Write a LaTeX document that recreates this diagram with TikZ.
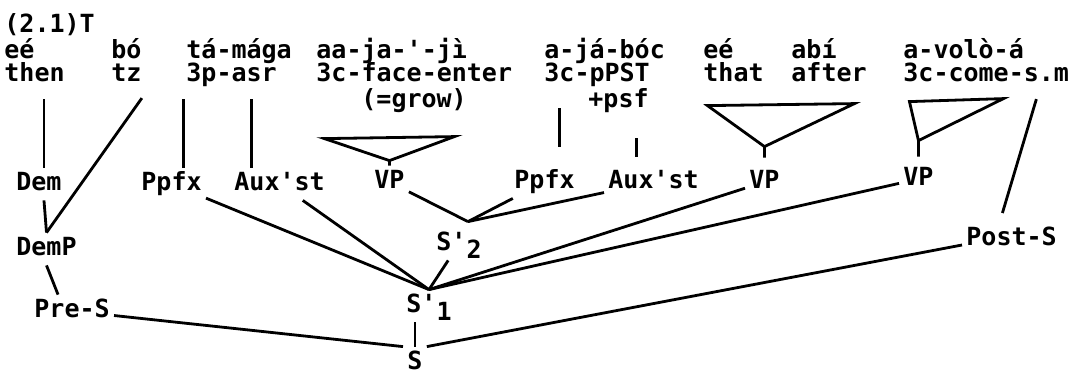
\documentclass[tikz,border=0pt]{standalone}
\usepackage{fontspec}
\setmonofont{DejaVu Sans Mono}
\begin{document}
\begin{tikzpicture}[x=0.5pt,y=-0.5pt,line width=1.4pt,
  txt/.style={anchor=base west,inner sep=1.5pt,font=\ttfamily\bfseries\fontsize{12.5}{14}\selectfont,text height=9pt,text depth=3pt},
  gap/.style={shorten <=3.5pt}]
\useasboundingbox (0,0) rectangle (1075,374);
\node[txt] (num) at (0,33) {(2.1)T};
\foreach \n/\x/\w/\g in {a/0/eé/then,b/107/bó/tz,c/182/tá-mága/3p-asr,d/312/aa-ja-'-jì/3c-face-enter,e/540/a-já-bóc/3c-pPST,f/699/eé/that,g/787/abí/after,h/899/a-volò-á/3c-come-s.m}
{\node[txt] (w\n) at (\x,59) {\w};
\node[txt] (g\n) at (\x,82) {\g};}
\node[txt] (grow) at (357,108) {(=grow)};
\node[txt] (psf) at (584,108) {+psf};
\foreach \n/\x/\y/\t in {dem/12/190/Dem,ppfa/137/190/Ppfx,auxa/230/190/Aux'st,vpa/370/188/VP,ppfb/510/188/Ppfx,auxb/604/188/Aux'st,vpb/745/188/VP,vpc/899/185/VP,demp/12/255/DemP,sb/432/250/{S'\raisebox{-4pt}{2}},posts/962/245/Post-S,pres/30/317/Pre-S,sa/402/312/{S'\raisebox{-4pt}{1}},s/403/369/S}
\node[txt] (\n) at (\x,\y) {\t};
\draw[gap] ([xshift=2.5pt]dem.north |- ga.south) -- ([xshift=2.5pt]dem.north);
\draw[gap] (gb.south east) -- (demp.north);
\draw[gap] ([xshift=6pt]ppfa.north |- gc.south) -- ([xshift=6pt]ppfa.north);
\draw[gap] ([xshift=-14pt]auxa.north |- gc.south) -- ([xshift=-14pt]auxa.north);
\draw[shorten <=8pt,shorten >=9.5pt] ([xshift=7.5pt]ppfb.north |- ge.south) -- ([xshift=7.5pt]ppfb.north);
\draw[shorten <=10pt,shorten >=4.5pt] ([xshift=-8.5pt]auxb.north |- psf.south) -- ([xshift=-8.5pt]auxb.north);
\draw (vpa.north) -- ++(0,-5) coordinate (ta) -- ++(-65,-22) -- ++(130,-2) -- (ta);
\draw[shorten <=4pt] (vpb.north) -- ++(0,-19) coordinate (tb) -- ++(-57,-41) -- ++(147,-2) -- (tb);
\draw[shorten <=3pt] (vpc.north) -- ++(0,-22) coordinate (tc) -- ++(-9,-39) -- ++(94,-3) -- (tc);
\draw[shorten <=3.5pt,shorten >=5pt] ([xshift=-17.5pt]gh.south east) -- ([xshift=-6pt]posts.north);
\draw ([xshift=2.5pt]dem.south) -- (demp.north);
\draw (demp.south) -- ([xshift=-7pt]pres.north);
\draw (pres) -- (s.north west);
\draw (s.north) -- (s.north |- sa.south);
\draw (s.north east) -- (posts.base west);
\foreach \c in {ppfa,auxa,sb,vpb,vpc}
\draw (sa.north) -- (\c);
\foreach \c in {vpa,ppfb,auxb}
\draw ([xshift=4.5pt,yshift=3pt]sb.north) -- (\c);
\end{tikzpicture}
\end{document}
